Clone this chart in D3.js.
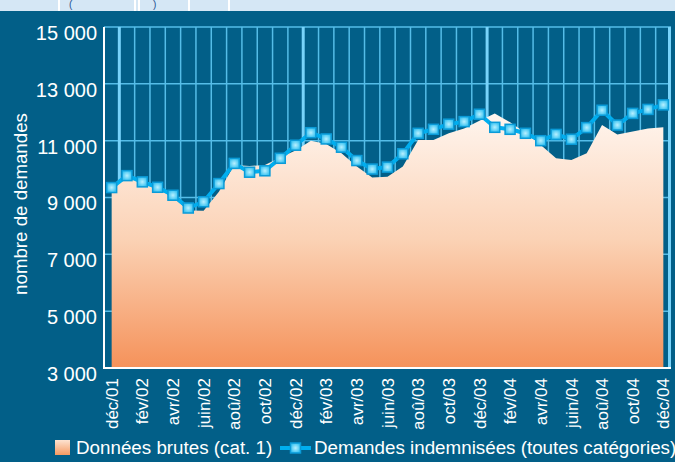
<!DOCTYPE html>
<html>
<head>
<meta charset="utf-8">
<script src="https://cdn.jsdelivr.net/npm/d3@7"></script>
<style>
  body { margin: 0; background: #025f88; }
  text { font-family: "Liberation Sans", Arial, sans-serif; }
</style>
</head>
<body>
<svg id="chart" width="675" height="462"></svg>
<script>
// months, dec 2001 -> dec 2004
let months = ['déc/01','jan/02','fév/02','mar/02','avr/02','mai/02','juin/02','juil/02','aoû/02','sep/02','oct/02','nov/02',
    'déc/02','jan/03','fév/03','mar/03','avr/03','mai/03','juin/03','juil/03','aoû/03','sep/03','oct/03','nov/03',
    'déc/03','jan/04','fév/04','mar/04','avr/04','mai/04','juin/04','juil/04','aoû/04','sep/04','oct/04','nov/04','déc/04'];
let tickMonths = months.filter(function(d, i){ return i % 2 == 0 });

// Données brutes (cat. 1) - area
let brutes = [9450, 9710, 9520, 9300, 9010, 8540, 8530, 9200, 10140, 10110, 10140, 10410,
    10650, 11000, 10880, 10560, 10090, 9700, 9730, 10090, 11020, 11020, 11260, 11430,
    11700, 11960, 11650, 11280, 10850, 10380, 10320, 10560, 11550, 11220, 11320, 11430, 11470];
// Demandes indemnisées (toutes catégories) - line
let indemnisees = [9350, 9770, 9550, 9360, 9080, 8630, 8850, 9490, 10200, 9890, 9940, 10380,
    10840, 11280, 11060, 10770, 10300, 10000, 10070, 10540, 11260, 11400, 11580, 11670,
    11930, 11470, 11400, 11260, 11000, 11220, 11050, 11460, 12070, 11550, 11960, 12100, 12260];
let yTicks = [3000, 5000, 7000, 9000, 11000, 13000, 15000];
let legendLabels = ['Données brutes (cat. 1)', 'Demandes indemnisées (toutes catégories)'];

var config = {
    left: 104, right: 671, top: 27, bottom: 368
}

let svg = d3.select('#chart');
let locale = d3.formatLocale({decimal: ',', thousands: ' ', grouping: [3], currency: ['', '€']});
let fmt = locale.format(',');

let x = d3.scaleBand().domain(months).range([config.left, config.right]).padding(0);
let y = d3.scaleLinear().domain([3000, 15000]).range([config.bottom, config.top]);
let cx = function(d){ return x(d) + x.bandwidth() / 2 };

let defs = svg.append('defs');
let grad = defs.append('linearGradient')
    .attr('id', 'areaGrad')
    .attr('gradientUnits', 'userSpaceOnUse')
    .attr('x1', 0).attr('x2', 0).attr('y1', 110).attr('y2', config.bottom);
grad.append('stop').attr('offset', 0).attr('stop-color', '#fff6f0');
grad.append('stop').attr('offset', 0.5).attr('stop-color', '#fbd2b5');
grad.append('stop').attr('offset', 1).attr('stop-color', '#f5925a');

let legGrad = defs.append('linearGradient')
    .attr('id', 'legGrad').attr('x1', 0).attr('x2', 0).attr('y1', 0).attr('y2', 1);
legGrad.append('stop').attr('offset', 0).attr('stop-color', '#fde3d1');
legGrad.append('stop').attr('offset', 1).attr('stop-color', '#f59a62');

let mGrad = defs.append('radialGradient').attr('id', 'markGrad');
mGrad.append('stop').attr('offset', 0).attr('stop-color', '#b8f0ff');
mGrad.append('stop').attr('offset', 1).attr('stop-color', '#3cc4f2');

// top strip (cut header)
svg.append('rect').attr('x', 0).attr('y', 0).attr('width', 675).attr('height', 11).attr('fill', '#d5e7f5');
[58, 134, 138, 188, 228].forEach(function(px){
    svg.append('rect').attr('x', px).attr('y', 0).attr('width', 2).attr('height', 11).attr('fill', '#ffffff');
});
svg.append('text').attr('x', 69).attr('y', 8).attr('font-size', 10).attr('fill', '#1d4f8f').text('(');
svg.append('text').attr('x', 153).attr('y', 8).attr('font-size', 10).attr('fill', '#1d4f8f').text(')');

// grid
let grid = svg.append('g');
grid.selectAll('line.h')
    .data(yTicks.slice(1))
    .join('line')
    .attr('class', 'h')
    .attr('x1', config.left).attr('x2', config.right)
    .attr('y1', function(d){ return y(d) }).attr('y2', function(d){ return y(d) })
    .attr('stroke', '#55bde8').attr('stroke-width', 1.5);

let bounds = d3.range(1, months.length + 1);
grid.selectAll('line.v')
    .data(bounds)
    .join('line')
    .attr('class', 'v')
    .attr('x1', function(i){ return Math.min(config.left + i * x.bandwidth(), config.right - 1.5) })
    .attr('x2', function(i){ return Math.min(config.left + i * x.bandwidth(), config.right - 1.5) })
    .attr('y1', config.top).attr('y2', config.bottom)
    .attr('stroke', function(i){ return (i - 1) % 12 == 0 ? '#78d3fa' : '#55bde8' })
    .attr('stroke-width', function(i){ return (i - 1) % 12 == 0 ? 3 : 1.5 });

// area
let area = d3.area()
    .x(function(d, i){ return cx(months[i]) })
    .y0(config.bottom)
    .y1(function(d){ return y(d) });
svg.append('path')
    .datum(brutes)
    .attr('d', area)
    .attr('fill', 'url(#areaGrad)');

// axes lines
svg.append('line').attr('x1', config.left).attr('x2', config.left)
    .attr('y1', config.top).attr('y2', config.bottom + 1)
    .attr('stroke', '#ffffff').attr('stroke-width', 2);
svg.append('line').attr('x1', config.left - 1).attr('x2', config.right)
    .attr('y1', config.bottom).attr('y2', config.bottom)
    .attr('stroke', '#ffffff').attr('stroke-width', 2);

// y axis labels
let yAxis = svg.append('g')
    .attr('transform', 'translate(' + config.left + ',0)')
    .call(d3.axisLeft(y).tickValues(yTicks).tickSize(0).tickPadding(7).tickFormat(fmt));
yAxis.select('.domain').remove();
yAxis.selectAll('text')
    .attr('fill', '#ffffff')
    .attr('font-size', 20)
    .attr('font-family', '"Liberation Sans", Arial, sans-serif')
    .attr('dy', '0.62em');

// x axis labels
let xAxis = svg.append('g')
    .attr('transform', 'translate(0,' + config.bottom + ')')
    .call(d3.axisBottom(x).tickValues(tickMonths).tickSize(0).tickPadding(0));
xAxis.select('.domain').remove();
xAxis.selectAll('text')
    .attr('fill', '#ffffff')
    .attr('font-size', 17)
    .attr('font-family', '"Liberation Sans", Arial, sans-serif')
    .attr('text-anchor', 'end')
    .attr('transform', 'translate(0,10) rotate(-90)')
    .attr('x', 0)
    .attr('y', 0)
    .attr('dy', '0.36em');

// y title
svg.append('text')
    .attr('transform', 'translate(27,204) rotate(-90)')
    .attr('text-anchor', 'middle')
    .attr('font-size', 18.7)
    .attr('fill', '#ffffff')
    .text('nombre de demandes');

// line
let line = d3.line()
    .x(function(d, i){ return cx(months[i]) })
    .y(function(d){ return y(d) });
svg.append('path')
    .datum(indemnisees)
    .attr('d', line)
    .attr('fill', 'none')
    .attr('stroke', '#00aeef')
    .attr('stroke-width', 4)
    .attr('stroke-linejoin', 'round');

function addMarker(g, px, py){
    g.append('rect')
        .attr('x', px - 5).attr('y', py - 5)
        .attr('width', 10).attr('height', 10)
        .attr('fill', 'url(#markGrad)')
        .attr('stroke', '#0a9bd8').attr('stroke-width', 1.5);
}
let marks = svg.append('g');
indemnisees.forEach(function(d, i){
    addMarker(marks, cx(months[i]), y(d));
});

// legend
let leg = svg.append('g');
leg.append('rect').attr('x', 55).attr('y', 440).attr('width', 15).attr('height', 15).attr('fill', 'url(#legGrad)');
leg.append('text').attr('x', 76).attr('y', 454).attr('font-size', 18.8).attr('fill', '#ffffff').text(legendLabels[0]);
leg.append('line').attr('x1', 280).attr('x2', 311).attr('y1', 448).attr('y2', 448)
    .attr('stroke', '#00aeef').attr('stroke-width', 4);
addMarker(leg, 295.5, 448);
leg.append('text').attr('x', 314).attr('y', 454).attr('font-size', 18.8).attr('fill', '#ffffff').text(legendLabels[1]);
</script>
</body>
</html>
